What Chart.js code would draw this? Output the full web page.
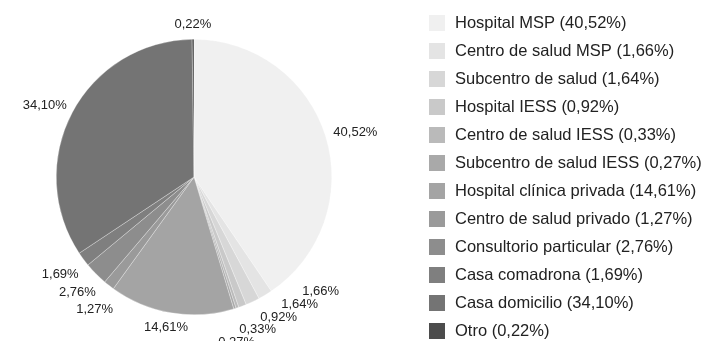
<!DOCTYPE html>
<html>
<head>
<meta charset="utf-8">
<title>Lugar de atención del parto</title>
<script src="https://cdn.jsdelivr.net/npm/chart.js@4/dist/chart.umd.min.js"></script>
<style>
  html, body { margin: 0; padding: 0; background: #fff; }
  #wrap { width: 706px; height: 341px; }
</style>
</head>
<body>
<div id="wrap"><canvas id="lugarChart" width="706" height="341"></canvas></div>
<script>
const lugares = [
  'Hospital MSP', 'Centro de salud MSP', 'Subcentro de salud', 'Hospital IESS',
  'Centro de salud IESS', 'Subcentro de salud IESS', 'Hospital clínica privada',
  'Centro de salud privado', 'Consultorio particular', 'Casa comadrona',
  'Casa domicilio', 'Otro'
];
const porcentajes = [40.52, 1.66, 1.64, 0.92, 0.33, 0.27, 14.61, 1.27, 2.76, 1.69, 34.10, 0.22];
const grises = [
  '#f0f0f0', '#e4e4e4', '#d7d7d7', '#c9c9c9', '#bababa', '#a9a9a9',
  '#a4a4a4', '#9a9a9a', '#8d8d8d', '#7f7f7f', '#747474', '#4c4c4c'
];

const FUENTE = '"Liberation Sans", Arial, sans-serif';
const fmt = v => v.toFixed(2).replace('.', ',') + '%';

// percentage labels around the pie; runs of thin slices are laid out
// along the tangent at the biggest slice of the run
const etiquetasFuera = {
  id: 'etiquetasFuera',
  afterDatasetsDraw(chart) {
    const ctx = chart.ctx;
    const arcs = chart.getDatasetMeta(0).data;
    const items = arcs.map((arc, i) => ({
      i,
      arc,
      text: fmt(porcentajes[i]),
      ang: (arc.startAngle + arc.endAngle) / 2 + Math.PI / 2  // from 12 o'clock, clockwise
    })).sort((a, b) => a.ang - b.ang);

    const limite = 10 * Math.PI / 180;
    const grupos = [];
    items.forEach(it => {
      const ult = grupos[grupos.length - 1];
      const prev = ult && ult[ult.length - 1];
      if (prev && it.ang - prev.ang < limite && (prev.ang < Math.PI) === (it.ang < Math.PI)) {
        ult.push(it);
      } else {
        grupos.push([it]);
      }
    });

    ctx.save();
    ctx.font = '13px ' + FUENTE;
    ctx.fillStyle = '#222';
    ctx.textAlign = 'center';
    ctx.textBaseline = 'middle';
    const h = 12, paso = 24.5;
    grupos.forEach(g => {
      const {x, y, outerRadius} = g[0].arc.getProps(['x', 'y', 'outerRadius'], true);
      if (g.length === 1) {
        const it = g[0];
        const r = outerRadius + 9;
        const sn = Math.sin(it.ang), cs = Math.cos(it.ang);
        const w = ctx.measureText(it.text).width;
        ctx.fillText(it.text, x + r * sn + sn * w / 2, y - r * cs - cs * h / 2);
        return;
      }
      const mayor = g.reduce((a, b) => (porcentajes[b.i] > porcentajes[a.i] ? b : a));
      const a = mayor.ang, r = outerRadius + 26;
      const cx = x + r * Math.sin(a), cy = y - r * Math.cos(a);
      const tx = Math.cos(a), ty = Math.sin(a);
      g.forEach((it, j) => {
        const k = (j - (g.length - 1) / 2) * paso;
        ctx.fillText(it.text, cx + tx * k, cy + ty * k);
      });
    });
    ctx.restore();
  }
};

// legend column on the right
const leyenda = {
  id: 'leyenda',
  afterDraw(chart) {
    const ctx = chart.ctx;
    const x0 = 429, y0 = 15, paso = 28, caja = 16;
    ctx.save();
    ctx.font = '16.5px ' + FUENTE;
    ctx.textBaseline = 'middle';
    ctx.textAlign = 'left';
    lugares.forEach((nombre, i) => {
      const y = y0 + i * paso;
      ctx.fillStyle = grises[i];
      ctx.fillRect(x0, y, caja, caja);
      ctx.fillStyle = '#222';
      ctx.fillText(nombre + ' (' + fmt(porcentajes[i]) + ')', x0 + caja + 10, y + caja / 2);
    });
    ctx.restore();
  }
};

new Chart(document.getElementById('lugarChart'), {
  type: 'pie',
  data: {
    labels: lugares,
    datasets: [{
      data: porcentajes,
      backgroundColor: grises,
      borderColor: 'rgba(255,255,255,0.6)',
      borderWidth: 0.5
    }]
  },
  options: {
    responsive: false,
    animation: false,
    layout: { padding: { left: 56, right: 374, top: 39, bottom: 26 } },
    plugins: {
      legend: { display: false },
      tooltip: { enabled: false }
    }
  },
  plugins: [etiquetasFuera, leyenda]
});
</script>
</body>
</html>
